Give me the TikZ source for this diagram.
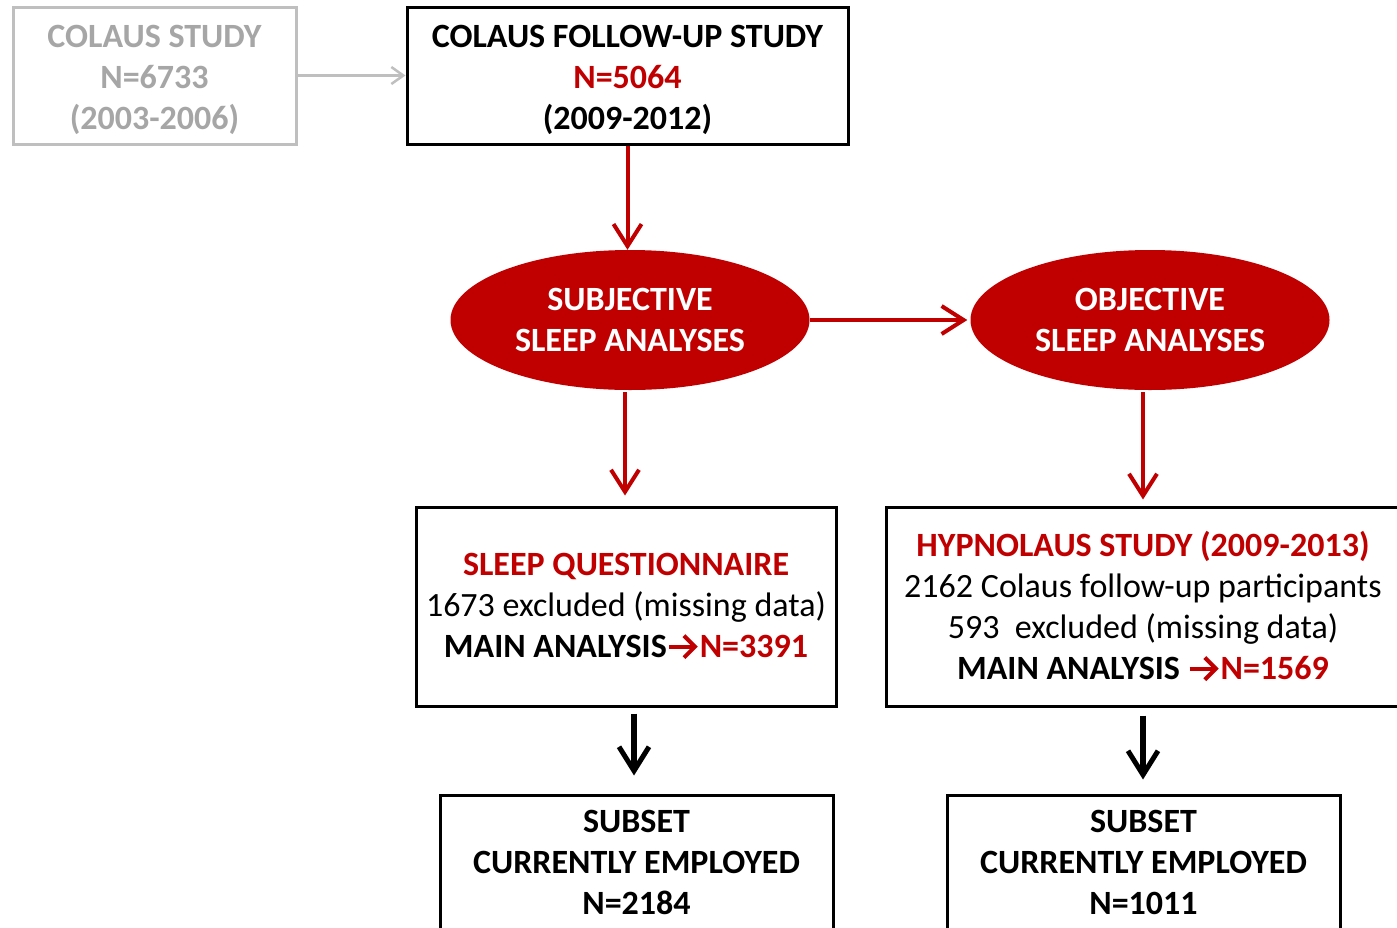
\documentclass[tikz,border=0pt]{standalone}
\usepackage{fontspec}
\setmainfont{Carlito}
\usetikzlibrary{shapes.geometric,arrows.meta}
\definecolor{cred}{HTML}{C00000}
\definecolor{cgray}{HTML}{BFBFBF}
\definecolor{cgtext}{HTML}{A6A6A6}
\newcommand{\redarr}{\tikz[baseline=0pt,x=1pt,y=1pt]{\draw[cred, line width=4pt, -{Straight Barb[length=11pt,width=22pt,line width=4pt]}] (0,11) -- (29,11);}}
\begin{document}
\begin{tikzpicture}[x=1pt,y=-1pt,
  txt/.style={font=\fontsize{34}{41}\selectfont, align=center, inner sep=0pt},
  box/.style={txt, draw=black, line width=3pt},
  graybox/.style={txt, draw=cgray, line width=3pt, text=cgtext},
  oval/.style={txt, ellipse, fill=cred, draw=none, text=white, minimum width=359pt, minimum height=140pt},
  redarrow/.style={draw=cred, line width=4pt, -{Straight Barb[length=22pt,width=28pt,line width=4pt]}},
  blackarrow/.style={draw=black, line width=5.5pt, -{Straight Barb[length=24pt,width=30pt,line width=5pt]}},
  grayarrow/.style={draw=cgray, line width=2.5pt, -{Straight Barb[length=12pt,width=17pt,line width=2.5pt]}}]
\useasboundingbox (0,0) rectangle (1397,927);
\clip (0,0) rectangle (1397,927);

\node[graybox, minimum width=283pt, minimum height=137pt] (colaus) at (154.5,75.5) {};
\node[txt, text=cgtext] (colaustext) at (154.5,79.5)
  {\bfseries COLAUS STUDY\\ \bfseries N=6733\\ \bfseries (2003-2006)};
\node[box, minimum width=441pt, minimum height=137pt] (follow) at (627.5,75.5) {};
\node[txt] (followtext) at (627.5,79.5)
  {\bfseries COLAUS FOLLOW-UP STUDY\\ \bfseries\color{cred}N=5064\\ \bfseries (2009-2012)};

\node[oval] (subj) at (630,320) {\bfseries SUBJECTIVE\\ \bfseries SLEEP ANALYSES};
\node[oval] (obj) at (1150,320) {\bfseries OBJECTIVE\\ \bfseries SLEEP ANALYSES};

\node[box, minimum width=420pt, minimum height=199pt] (quest) at (626,606.5)
  {\bfseries\color{cred}SLEEP QUESTIONNAIRE\\
   1673 excluded (missing data)\\
   \bfseries MAIN ANALYSIS\redarr{\bfseries\color{cred}N=3391}};
\node[box, minimum width=514pt, minimum height=199pt] (hypno) at (1143,606.5)
  {\bfseries\color{cred}HYPNOLAUS STUDY (2009-2013)\\
   2162 Colaus follow-up participants\\
   593~~excluded (missing data)\\
   \bfseries MAIN ANALYSIS \redarr{\bfseries\color{cred}N=1569}};

\node[box, minimum width=393pt, minimum height=134pt] (empl1) at (636.5,862)
  {\bfseries SUBSET\\ \bfseries CURRENTLY EMPLOYED\\ \bfseries N=2184};
\node[box, minimum width=393pt, minimum height=134pt] (empl2) at (1143.5,862)
  {\bfseries SUBSET\\ \bfseries CURRENTLY EMPLOYED\\ \bfseries N=1011};

\draw[grayarrow] (colaus.east) -- (follow.west);
\draw[redarrow] (follow.south) -- (follow.south |- subj.north);
\draw[redarrow] (subj.east) -- ([xshift=-3pt]obj.west);
\draw[redarrow, shorten <=2pt, shorten >=10pt] ([xshift=-5pt]subj.south) -- ([xshift=-5pt]subj.south |- quest.north);
\draw[redarrow, shorten <=2pt, shorten >=6pt] ([xshift=-7pt]obj.south) -- ([xshift=-7pt]obj.south |- hypno.north);
\draw[blackarrow, shorten <=6pt, shorten >=18pt] ([xshift=8pt]quest.south) -- ([xshift=8pt]quest.south |- empl1.north);
\draw[blackarrow, shorten <=8pt, shorten >=14pt] (hypno.south) -- (hypno.south |- empl2.north);
\end{tikzpicture}
\end{document}
